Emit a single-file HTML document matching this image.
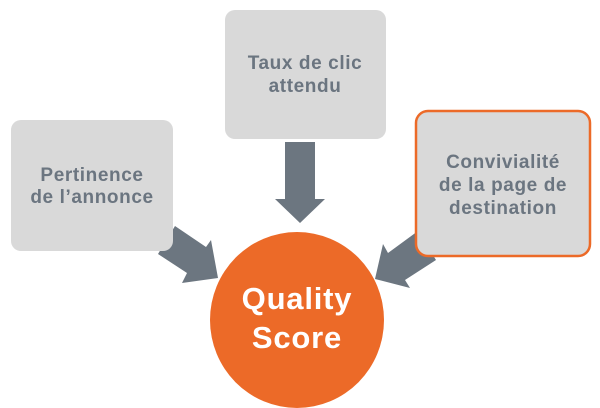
<!DOCTYPE html>
<html><head><style>
body{margin:0;background:#fff;width:600px;height:408px;overflow:hidden}
svg{display:block}
text{font-family:"Liberation Sans",sans-serif;font-weight:bold}
</style></head><body>
<svg width="600" height="408" viewBox="0 0 600 408">
<polygon points="175,226 206,247 211,240 218,278 182,283 187,273 158,254" fill="#6c7680"/>
<polygon points="383,244 388,253 418,231 436,260 405,280 410,288 375,279" fill="#6c7680"/>
<polygon points="285,142 315,142 315,199 325,199 300,223 275,199 285,199" fill="#6c7680"/>
<rect x="11" y="120" width="162" height="131" rx="10" fill="#d9d9d9"/>
<rect x="225" y="10" width="161" height="129" rx="10" fill="#d9d9d9"/>
<rect x="416" y="111" width="174" height="145" rx="12" fill="#d9d9d9" stroke="#ec6a28" stroke-width="2.5"/>
<ellipse cx="297" cy="320" rx="87" ry="88" fill="#ec6a28"/>
<g fill="#6b7580" font-size="19" text-anchor="middle" letter-spacing="0.6">
<text x="92" y="181">Pertinence</text>
<text x="92" y="203">de l’annonce</text>
<text x="305" y="69">Taux de clic</text>
<text x="305" y="92">attendu</text>
<text x="503" y="168">Convivialité</text>
<text x="503" y="191">de la page de</text>
<text x="503" y="214">destination</text>
</g>
<g fill="#fff" font-size="31" text-anchor="middle" letter-spacing="0.8">
<text x="297" y="309">Quality</text>
<text x="297" y="348">Score</text>
</g>
</svg>
</body></html>
